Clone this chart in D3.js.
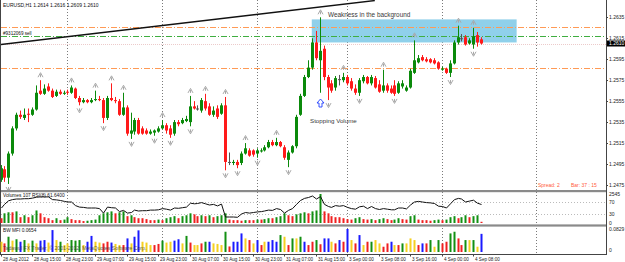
<!DOCTYPE html>
<html>
<head>
<meta charset="utf-8">
<script src="https://cdn.jsdelivr.net/npm/d3@7"></script>
<style>
html, body { margin: 0; padding: 0; background: #fff; }
svg { display: block; font-family: "Liberation Sans", Arial, sans-serif; }
</style>
</head>
<body>
<svg id="chart" width="625" height="262"></svg>
<script>
// EURUSD H1, 28 Aug 2012 07:00 .. 4 Sep 2012 10:00 (one value per bar)
const opens = [
  1.2480,1.2490,1.2482,1.2505,1.2529,1.2542,1.2539,1.2543,1.2542,1.2547,
  1.2565,1.2562,1.2569,1.2565,1.2560,1.2564,1.2562,1.2564,1.2563,1.2567,
  1.2558,1.2554,1.2556,1.2554,1.2556,1.2557,1.2556,1.2539,1.2558,1.2556,
  1.2555,1.2542,1.2549,1.2524,1.2526,1.2537,1.2529,1.2527,1.2524,1.2525,
  1.2526,1.2529,1.2532,1.2529,1.2524,1.2535,1.2534,1.2536,1.2535,1.2550,
  1.2548,1.2546,1.2555,1.2550,1.2542,1.2548,1.2543,1.2551,1.2497,1.2496,
  1.2497,1.2496,1.2505,1.2508,1.2508,1.2505,1.2507,1.2508,1.2511,1.2516,
  1.2513,1.2516,1.2511,1.2499,1.2506,1.2512,1.2542,1.2560,1.2578,1.2587,
  1.2611,1.2594,1.2605,1.2578,1.2572,1.2568,1.2576,1.2575,1.2578,1.2574,
  1.2567,1.2563,1.2574,1.2578,1.2572,1.2577,1.2571,1.2565,1.2570,1.2567,
  1.2570,1.2563,1.2569,1.2565,1.2568,1.2582,1.2592,1.2597,1.2595,1.2595,
  1.2594,1.2592,1.2585,1.2586,1.2582,1.2591,1.2611,1.2615,1.2616,1.2610,
  1.2609,1.2618,1.2614
];
const highs = [
  1.2494,1.2493,1.2507,1.2531,1.2544,1.2546,1.2548,1.2548,1.2549,1.2570,
  1.2575,1.2571,1.2572,1.2567,1.2566,1.2566,1.2565,1.2566,1.2570,1.2568,
  1.2560,1.2558,1.2557,1.2558,1.2565,1.2560,1.2558,1.2560,1.2572,1.2559,
  1.2557,1.2563,1.2551,1.2544,1.2539,1.2539,1.2531,1.2529,1.2528,1.2528,
  1.2531,1.2537,1.2534,1.2532,1.2537,1.2537,1.2539,1.2541,1.2560,1.2555,
  1.2551,1.2558,1.2562,1.2553,1.2550,1.2551,1.2553,1.2559,1.2506,1.2499,
  1.2499,1.2507,1.2515,1.2510,1.2509,1.2510,1.2510,1.2513,1.2518,1.2518,
  1.2520,1.2517,1.2513,1.2508,1.2513,1.2542,1.2562,1.2580,1.2594,1.2615,
  1.2622,1.2635,1.2608,1.2580,1.2575,1.2579,1.2580,1.2582,1.2580,1.2577,
  1.2571,1.2577,1.2580,1.2579,1.2580,1.2579,1.2575,1.2585,1.2572,1.2570,
  1.2575,1.2574,1.2575,1.2570,1.2586,1.2613,1.2599,1.2599,1.2597,1.2596,
  1.2596,1.2593,1.2588,1.2587,1.2594,1.2613,1.2627,1.2619,1.2618,1.2615,
  1.2625,1.2621,1.2616
];
const lows = [
  1.2478,1.2478,1.2476,1.2503,1.2527,1.2538,1.2537,1.2535,1.2541,1.2546,
  1.2561,1.2561,1.2564,1.2558,1.2559,1.2561,1.2561,1.2561,1.2562,1.2557,
  1.2551,1.2553,1.2553,1.2553,1.2555,1.2555,1.2534,1.2537,1.2555,1.2553,
  1.2541,1.2541,1.2522,1.2519,1.2523,1.2523,1.2523,1.2523,1.2523,1.2522,
  1.2525,1.2528,1.2524,1.2520,1.2522,1.2531,1.2533,1.2535,1.2531,1.2547,
  1.2546,1.2544,1.2546,1.2541,1.2540,1.2538,1.2542,1.2489,1.2494,1.2494,
  1.2491,1.2494,1.2504,1.2502,1.2502,1.2501,1.2506,1.2507,1.2510,1.2512,
  1.2512,1.2511,1.2499,1.2492,1.2505,1.2510,1.2541,1.2559,1.2577,1.2585,
  1.2594,1.2563,1.2575,1.2556,1.2563,1.2565,1.2570,1.2573,1.2570,1.2565,
  1.2561,1.2560,1.2572,1.2571,1.2570,1.2567,1.2563,1.2563,1.2563,1.2562,
  1.2560,1.2562,1.2567,1.2564,1.2567,1.2581,1.2591,1.2593,1.2592,1.2591,
  1.2590,1.2585,1.2584,1.2581,1.2578,1.2590,1.2609,1.2612,1.2608,1.2609,
  1.2605,1.2607,1.2609
];
const closes = [
  1.2491,1.2482,1.2505,1.2529,1.2542,1.2540,1.2542,1.2542,1.2547,1.2563,
  1.2562,1.2567,1.2565,1.2559,1.2564,1.2562,1.2563,1.2563,1.2568,1.2558,
  1.2554,1.2556,1.2554,1.2556,1.2557,1.2556,1.2539,1.2558,1.2556,1.2555,
  1.2542,1.2549,1.2524,1.2527,1.2537,1.2524,1.2524,1.2524,1.2526,1.2527,
  1.2529,1.2532,1.2527,1.2523,1.2535,1.2533,1.2537,1.2538,1.2550,1.2548,
  1.2548,1.2556,1.2548,1.2542,1.2546,1.2540,1.2551,1.2497,1.2497,1.2497,
  1.2494,1.2505,1.2510,1.2503,1.2504,1.2508,1.2508,1.2511,1.2516,1.2513,
  1.2516,1.2512,1.2501,1.2506,1.2512,1.2540,1.2560,1.2578,1.2587,1.2611,
  1.2596,1.2603,1.2578,1.2568,1.2565,1.2577,1.2576,1.2578,1.2572,1.2567,
  1.2563,1.2575,1.2578,1.2572,1.2578,1.2568,1.2564,1.2570,1.2565,1.2563,
  1.2562,1.2572,1.2572,1.2568,1.2584,1.2594,1.2596,1.2594,1.2593,1.2592,
  1.2591,1.2586,1.2586,1.2582,1.2591,1.2611,1.2616,1.2615,1.2609,1.2613,
  1.2617,1.2611,1.2610
];
const volumes = [
  420,850,940,940,1020,510,680,510,680,1100,
  850,510,420,250,420,250,300,510,340,250,
  250,170,200,250,300,680,850,940,1020,850,
  940,1020,600,680,510,420,420,340,250,250,
  300,250,420,510,600,420,600,680,850,760,
  600,680,600,680,510,600,680,850,300,250,
  250,200,250,250,250,300,300,340,420,420,
  510,600,850,680,600,760,850,940,850,1020,
  1100,2545,1020,850,600,510,510,420,340,300,
  420,510,340,300,340,250,340,420,340,250,
  300,420,340,300,600,680,300,250,250,200,
  250,300,250,300,510,600,420,510,680,510,
  600,680,107
];
const rsi = [
  50,62,74,78,80,80,81,81,83,86,
  87,87,87,78,77,75,72,70,70,58,
  53,52,50,50,50,48,33,53,51,50,
  38,42,33,35,43,40,41,41,43,43,
  44,48,46,43,50,49,51,53,66,64,
  65,68,64,60,62,57,63,20,20,20,
  19,30,35,33,35,37,38,40,43,42,
  48,45,33,42,48,62,75,82,85,90,
  80,88,62,55,52,58,56,58,52,48,
  46,54,56,48,55,48,45,48,46,44,
  44,50,50,47,60,70,72,70,68,67,
  65,56,55,50,64,78,82,80,70,73,
  76,66,61.64
];
const mfiValues = [
  0.037,0.031,0.055,0.041,0.046,0.037,0.043,0.031,0.041,0.031,
  0.041,0.043,0.034,0.079,0.043,0.037,0.025,0.031,0.043,0.041,
  0.043,0.025,0.037,0.058,0.037,0.034,0.031,0.037,0.034,0.029,
  0.025,0.025,0.049,0.031,0.055,0.078,0.037,0.034,0.025,0.025,
  0.029,0.041,0.034,0.037,0.041,0.046,0.031,0.058,0.034,0.025,
  0.025,0.031,0.037,0.037,0.031,0.029,0.025,0.073,0.020,0.037,
  0.037,0.067,0.049,0.043,0.031,0.043,0.025,0.037,0.037,0.043,
  0.037,0.061,0.055,0.025,0.049,0.049,0.055,0.037,0.025,0.037,
  0.043,0.028,0.049,0.049,0.037,0.031,0.043,0.037,0.0829,0.043,
  0.031,0.061,0.025,0.037,0.037,0.043,0.031,0.019,0.031,0.037,
  0.025,0.025,0.031,0.031,0.049,0.043,0.025,0.031,0.031,0.043,
  0.019,0.043,0.031,0.037,0.067,0.073,0.049,0.025,0.043,0.043,
  0.043,0.019,0.0654
];
// g = green, y = fade (yellow), b = fake (blue), r = squat (red)
const mfiKinds = [
  'y','r','g','y','g','b','g','y','g','y',
  'b','b','y','b','y','g','y','y','g','g',
  'g','y','b','b','y','y','r','r','b','y',
  'y','r','b','y','b','b','y','y','y','r',
  'r','g','y','y','b','b','y','g','r','y',
  'y','r','g','b','y','y','y','g','r','b',
  'b','b','y','r','y','b','r','y','b','b',
  'b','g','y','r','g','y','g','b','r','r',
  'g','r','b','b','y','r','b','r','b','y',
  'r','b','y','r','g','y','y','r','r','b',
  'y','r','g','y','y','y','r','b','r','g',
  'y','g','r','r','g','g','r','r','g','y',
  'g','y','b'
];

const upFractals = [10, 18, 24, 28, 31, 41, 48, 52, 57, 62, 70, 81, 87, 97, 105, 116, 120];
const downFractals = [2, 20, 26, 33, 39, 43, 48, 57, 60, 65, 73, 83, 91, 100, 114, 120];

const dayStarts = [17, 41, 65, 88, 112, 136];
const dateBars = [0, 8, 16, 24, 32, 40, 48, 56, 64, 72, 80, 88, 96, 104, 112, 120];
const dateLabels = ['28 Aug 2012', '28 Aug 15:00', '28 Aug 23:00', '29 Aug 07:00', '29 Aug 15:00',
  '29 Aug 23:00', '30 Aug 07:00', '30 Aug 15:00', '30 Aug 23:00', '31 Aug 07:00', '31 Aug 15:00',
  '3 Sep 00:00', '3 Sep 08:00', '3 Sep 16:00', '4 Sep 00:00', '4 Sep 08:00'];
const priceTicks = [1.2635, 1.2615, 1.2595, 1.2575, 1.2555, 1.2535, 1.2515, 1.2495, 1.2475];

const orangeLevels = [1.2626, 1.2587];
const sellLevel = 1.2617;
const trendLine = [[0, 1.2609], [95, 1.2651]];
const zone = { from: 79, to: 131, top: 1.2633, bottom: 1.2611 };

const svg = d3.select('#chart');
const right = 606;

const x = d3.scaleLinear().domain([0, 153]).range([0.5, 0.5 + 153 * 3.94]);
const y = d3.scaleLinear().domain([1.2475, 1.2635]).range([185, 17.3]);
const yVol = d3.scaleLinear().domain([0, 2545]).range([223, 194]);
const yRsi = d3.scaleLinear().domain([0, 100]).range([223, 193]);
const yMfi = d3.scaleLinear().domain([0, 0.0829]).range([252, 229]);

const bars = d3.range(opens.length);
const px = i => Math.round(x(i));

const defs = svg.append('defs');
defs.append('clipPath').attr('id', 'mainClip')
    .append('rect').attr('x', 1).attr('y', 0).attr('width', right - 1).attr('height', 190);

// day separators
svg.append('g').selectAll('line').data(dayStarts).join('line')
    .attr('x1', d => px(d) + 0.5).attr('x2', d => px(d) + 0.5)
    .attr('y1', 0).attr('y2', 254)
    .attr('stroke', '#7a7a7a').attr('stroke-dasharray', '1,2');

const main = svg.append('g').attr('clip-path', 'url(#mainClip)');

// zone box
main.append('rect')
    .attr('x', x(zone.from)).attr('y', y(zone.top))
    .attr('width', x(zone.to) - x(zone.from)).attr('height', y(zone.bottom) - y(zone.top))
    .attr('fill', '#8fd0ea');

// price levels
main.selectAll('line.lvl').data(orangeLevels).join('line').attr('class', 'lvl')
    .attr('x1', 1).attr('x2', right).attr('y1', d => Math.round(y(d)) + 0.5).attr('y2', d => Math.round(y(d)) + 0.5)
    .attr('stroke', '#ff9a55').attr('stroke-dasharray', '6,2,1,2');
main.append('line')
    .attr('x1', 1).attr('x2', right).attr('y1', Math.round(y(sellLevel)) + 0.5).attr('y2', Math.round(y(sellLevel)) + 0.5)
    .attr('stroke', '#3fae3f').attr('stroke-dasharray', '6,2,1,2');
const last = closes.length - 1;
main.append('line')
    .attr('x1', 1).attr('x2', right).attr('y1', Math.round(y(closes[last])) + 0.5).attr('y2', Math.round(y(closes[last])) + 0.5)
    .attr('stroke', '#eccaca').attr('stroke-dasharray', '1,1');

// candles
const bull = '#0b8a0b', bear = '#ff1a1a', flat = '#555';
const col = i => closes[i] > opens[i] ? bull : closes[i] < opens[i] ? bear : flat;
main.append('g').selectAll('line').data(bars).join('line')
    .attr('x1', i => px(i) + 0.5).attr('x2', i => px(i) + 0.5)
    .attr('y1', i => y(highs[i])).attr('y2', i => y(lows[i]))
    .attr('stroke', col);
main.append('g').selectAll('rect').data(bars).join('rect')
    .attr('x', i => px(i) - 1).attr('width', 3)
    .attr('y', i => Math.min(y(opens[i]), y(closes[i])))
    .attr('height', i => Math.max(1, Math.abs(y(opens[i]) - y(closes[i]))))
    .attr('fill', col);

// fractals
main.append('g').selectAll('path').data(upFractals).join('path')
    .attr('transform', i => `translate(${px(i) + 0.5},${y(highs[i]) - 5})`)
    .attr('d', 'M-2.5,2 L0,-2.5 L2.5,2 M0,-1 L0,2')
    .attr('fill', 'none').attr('stroke', '#a8a8a8');
main.append('g').selectAll('path').data(downFractals).join('path')
    .attr('transform', i => `translate(${px(i) + 0.5},${y(lows[i]) + 5})`)
    .attr('d', 'M-2.5,-2 L0,2.5 L2.5,-2 M0,1 L0,-2')
    .attr('fill', 'none').attr('stroke', '#a8a8a8');

// trend line
main.append('line')
    .attr('x1', x(trendLine[0][0])).attr('y1', y(trendLine[0][1]))
    .attr('x2', x(trendLine[1][0])).attr('y2', y(trendLine[1][1]))
    .attr('stroke', '#111').attr('stroke-width', 1.4);

// annotations
svg.append('text').attr('x', 328).attr('y', 17).attr('font-size', 6.4).attr('fill', '#3a3a3a')
    .text('Weakness in the background');
const ax = px(81) + 0.5, ay = 104;
svg.append('path')
    .attr('d', `M${ax},${ay - 5} L${ax + 3.5},${ay - 1} L${ax + 1.5},${ay - 1} L${ax + 1.5},${ay + 3} L${ax - 1.5},${ay + 3} L${ax - 1.5},${ay - 1} L${ax - 3.5},${ay - 1} Z`)
    .attr('fill', '#fff').attr('stroke', '#2040ff').attr('stroke-width', 0.9);
svg.append('text').attr('x', 310).attr('y', 123).attr('font-size', 6.2).attr('fill', '#3a3a3a')
    .text('Stopping Volume');

svg.append('text').attr('x', 3).attr('y', 7).attr('font-size', 5).attr('fill', '#111')
    .text(`EURUSD,H1  ${opens[last].toFixed(4)} ${highs[last].toFixed(4)} ${lows[last].toFixed(4)} ${closes[last].toFixed(4)}`);
svg.append('text').attr('x', 3).attr('y', 34.5).attr('font-size', 4.6).attr('fill', '#111')
    .text('#9312069 sell');
svg.append('text').attr('x', 538).attr('y', 187).attr('font-size', 5).attr('fill', '#ff5a3a')
    .text('Spread: 2');
svg.append('text').attr('x', 571).attr('y', 187).attr('font-size', 5).attr('fill', '#ff5a3a')
    .text('Bar: 37 : 15');

// panel separators and frame
svg.append('rect').attr('x', 0).attr('y', 190).attr('width', right).attr('height', 2.2).attr('fill', '#8a8a8a');
svg.append('rect').attr('x', 0).attr('y', 224.4).attr('width', right).attr('height', 2.2).attr('fill', '#8a8a8a');
svg.append('line').attr('x1', 0.5).attr('x2', 0.5).attr('y1', 0).attr('y2', 254).attr('stroke', '#444');
svg.append('line').attr('x1', right + 0.5).attr('x2', right + 0.5).attr('y1', 0).attr('y2', 254).attr('stroke', '#444');
svg.append('line').attr('x1', 0).attr('x2', right + 1).attr('y1', 254.5).attr('y2', 254.5).attr('stroke', '#444');

// price axis
const pa = svg.append('g');
pa.selectAll('line').data(priceTicks).join('line')
    .attr('x1', right).attr('x2', right + 2).attr('y1', d => Math.round(y(d)) + 0.5).attr('y2', d => Math.round(y(d)) + 0.5)
    .attr('stroke', '#444');
pa.selectAll('text').data(priceTicks).join('text')
    .attr('x', 609).attr('y', d => y(d)).attr('dy', '0.35em')
    .attr('font-size', 5).attr('fill', '#222').text(d => d.toFixed(4));
svg.append('rect').attr('x', 607).attr('y', y(closes[last]) - 3).attr('width', 18).attr('height', 6).attr('fill', '#000');
svg.append('text').attr('x', 609).attr('y', y(closes[last])).attr('dy', '0.35em')
    .attr('font-size', 5).attr('fill', '#fff').text(closes[last].toFixed(4));

// volume panel
const volPanel = svg.append('g');
[70, 30].forEach(v => {
  volPanel.append('line').attr('x1', 1).attr('x2', right).attr('y1', Math.round(yRsi(v)) + 0.5).attr('y2', Math.round(yRsi(v)) + 0.5)
      .attr('stroke', '#bbb').attr('stroke-dasharray', '1,2');
});
volPanel.selectAll('rect').data(bars).join('rect')
    .attr('x', i => px(i) - 0.5).attr('width', 2)
    .attr('y', i => yVol(volumes[i])).attr('height', i => 223 - yVol(volumes[i]))
    .attr('fill', i => i > 0 && volumes[i] > volumes[i - 1] ? '#139013' : '#f02020');
volPanel.append('path').datum(bars)
    .attr('d', d3.line().x(i => px(i) + 0.5).y(i => yRsi(rsi[i])))
    .attr('fill', 'none').attr('stroke', '#111').attr('stroke-width', 1);
volPanel.append('text').attr('x', 3).attr('y', 197).attr('font-size', 4.8).attr('fill', '#111')
    .text(`Volumes ${volumes[last]}  RSI(8) ${rsi[last].toFixed(4)}`);
const volLabels = [['2545', yVol(2545)], ['70', yRsi(70)], ['30', yRsi(30)], ['0', yVol(0)]];
volPanel.selectAll('text.r').data(volLabels).join('text').attr('class', 'r')
    .attr('x', 609).attr('y', d => d[1]).attr('dy', '0.35em').attr('font-size', 5).attr('fill', '#222').text(d => d[0]);

// BW MFI panel
const kindColor = { g: '#139013', y: '#f5d020', b: '#1a1aff', r: '#f02020' };
const mfiPanel = svg.append('g');
mfiPanel.selectAll('rect').data(bars).join('rect')
    .attr('x', i => px(i) - 0.5).attr('width', 2)
    .attr('y', i => yMfi(mfiValues[i])).attr('height', i => 252 - yMfi(mfiValues[i]))
    .attr('fill', i => kindColor[mfiKinds[i]]);
mfiPanel.append('text').attr('x', 3).attr('y', 232).attr('font-size', 4.8).attr('fill', '#111')
    .text(`BW MFI ${mfiValues[last].toFixed(4)}`);
mfiPanel.append('text').attr('x', 3).attr('y', 249.5).attr('font-size', 5.2).attr('fill', '#333').attr('opacity', 0.75)
    .text('Tadawul FX Trader, © 2001-2012, MetaQuotes Software Corp.');
mfiPanel.selectAll('text.r').data([['0.0829', yMfi(0.0829)], ['0', yMfi(0) - 1.5]]).join('text').attr('class', 'r')
    .attr('x', 609).attr('y', d => d[1]).attr('dy', '0.35em').attr('font-size', 5).attr('fill', '#222').text(d => d[0]);

// time axis
const ta = svg.append('g');
ta.selectAll('line').data(dateBars).join('line')
    .attr('x1', i => px(i) + 0.5).attr('x2', i => px(i) + 0.5).attr('y1', 254).attr('y2', 256.5)
    .attr('stroke', '#444');
ta.selectAll('text').data(dateBars).join('text')
    .attr('x', i => px(i) + 2).attr('y', 260.5)
    .attr('font-size', 4.6).attr('fill', '#222').text((d, k) => dateLabels[k]);
</script>
</body>
</html>
